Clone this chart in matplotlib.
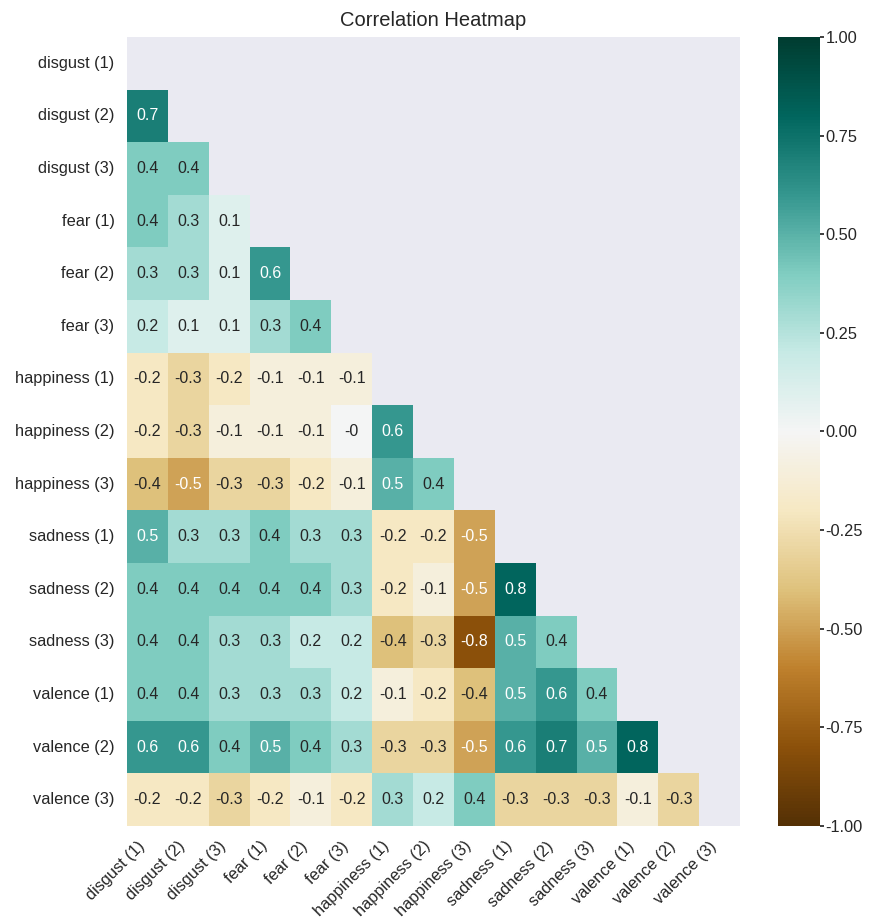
import numpy as np
import matplotlib
matplotlib.use('Agg')
import matplotlib.pyplot as plt
import seaborn as sns

sns.set_theme(style='darkgrid')
plt.rcParams['font.family'] = ['Liberation Sans', 'DejaVu Sans']

labels = ['disgust (1)', 'disgust (2)', 'disgust (3)',
          'fear (1)', 'fear (2)', 'fear (3)',
          'happiness (1)', 'happiness (2)', 'happiness (3)',
          'sadness (1)', 'sadness (2)', 'sadness (3)',
          'valence (1)', 'valence (2)', 'valence (3)']

# lower triangle of the (rounded) correlation matrix, row by row
lower_rows = [
    [],
    [0.7],
    [0.4, 0.4],
    [0.4, 0.3, 0.1],
    [0.3, 0.3, 0.1, 0.6],
    [0.2, 0.1, 0.1, 0.3, 0.4],
    [-0.2, -0.3, -0.2, -0.1, -0.1, -0.1],
    [-0.2, -0.3, -0.1, -0.1, -0.1, -0.0, 0.6],
    [-0.4, -0.5, -0.3, -0.3, -0.2, -0.1, 0.5, 0.4],
    [0.5, 0.3, 0.3, 0.4, 0.3, 0.3, -0.2, -0.2, -0.5],
    [0.4, 0.4, 0.4, 0.4, 0.4, 0.3, -0.2, -0.1, -0.5, 0.8],
    [0.4, 0.4, 0.3, 0.3, 0.2, 0.2, -0.4, -0.3, -0.8, 0.5, 0.4],
    [0.4, 0.4, 0.3, 0.3, 0.3, 0.2, -0.1, -0.2, -0.4, 0.5, 0.6, 0.4],
    [0.6, 0.6, 0.4, 0.5, 0.4, 0.3, -0.3, -0.3, -0.5, 0.6, 0.7, 0.5, 0.8],
    [-0.2, -0.2, -0.3, -0.2, -0.1, -0.2, 0.3, 0.2, 0.4, -0.3, -0.3, -0.3, -0.1, -0.3],
]

n = len(labels)
corr = np.eye(n)
for i, row in enumerate(lower_rows):
    for j, v in enumerate(row):
        corr[i, j] = v
        corr[j, i] = v

mask = np.triu(np.ones_like(corr, dtype=bool))

fig = plt.figure(figsize=(8.7, 9.18), dpi=100)
ax = fig.add_axes([127 / 870, 1 - 826 / 918, (740 - 127) / 870, (826 - 37) / 918])
cax = fig.add_axes([778 / 870, 1 - 826 / 918, (820 - 778) / 870, (826 - 37) / 918])

sns.heatmap(corr, mask=mask, vmin=-1, vmax=1, cmap='BrBG', annot=True,
            annot_kws={'size': 11.5}, xticklabels=labels, yticklabels=labels,
            ax=ax, cbar_ax=cax)
ax.grid(False)
ax.set_title('Correlation Heatmap', fontsize=14.5, pad=8)
ax.tick_params(axis='both', labelsize=11.8, pad=3)
plt.setp(ax.get_xticklabels(), rotation=45, ha='right', rotation_mode='default')
plt.setp(ax.get_yticklabels(), rotation=0)
cax.tick_params(labelsize=11.8, length=3, pad=1)
cax.set_yticks([-1, -0.75, -0.5, -0.25, 0, 0.25, 0.5, 0.75, 1])
cax.set_yticklabels(['-1.00', '-0.75', '-0.50', '-0.25', '0.00', '0.25', '0.50', '0.75', '1.00'])

plt.savefig('out.png', dpi=100)
